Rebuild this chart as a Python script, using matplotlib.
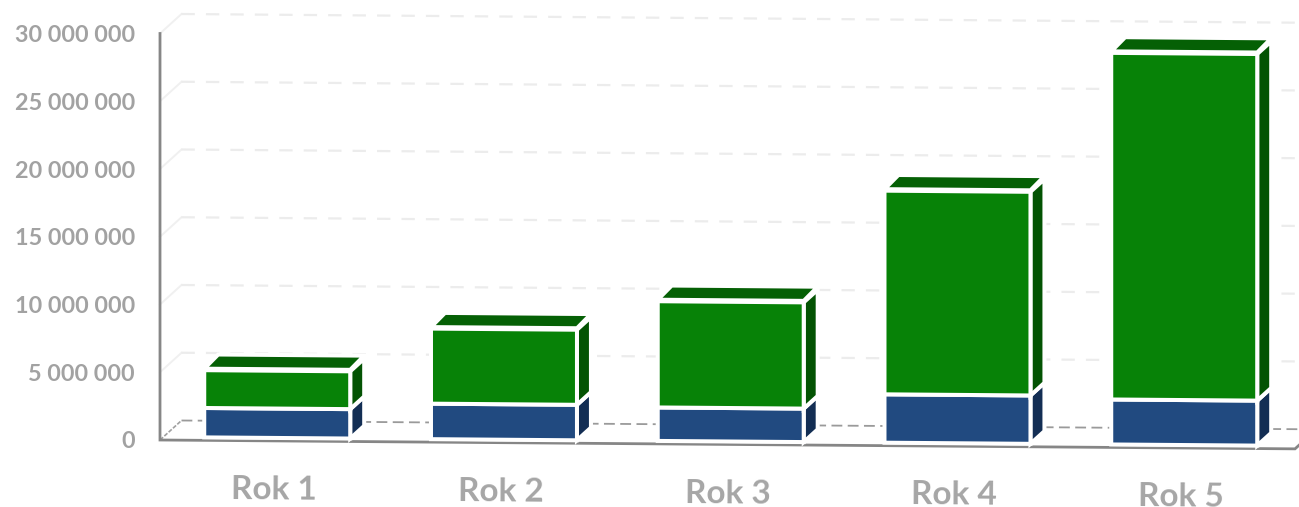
import matplotlib
matplotlib.use("Agg")
import matplotlib.pyplot as plt

categories = ["Rok 1", "Rok 2", "Rok 3", "Rok 4", "Rok 5"]
blue_values = [2.17e6, 2.62e6, 2.47e6, 3.57e6, 3.32e6]
green_values = [2.79e6, 5.54e6, 7.84e6, 15.03e6, 25.58e6]
y_ticks = [0, 5e6, 10e6, 15e6, 20e6, 25e6, 30e6]

W, H = 1299, 507
PX_PER_CAT = 226.75      # px between categories
PX_PER_VAL = 13.55e-6    # px per unit of value
X0_CAT = 274.0           # px of first category on front plane
X_AXIS = 160.0
Y_ZERO = 440.0
SHEAR = 0.0078
DEPTH_DX, DEPTH_DY = 21.5, 19.5
BAR_HALF = 73.0
D_FRONT, D_BACK = 0.15, 0.80
EDGE = 2.9
TOP_LIFT_FRONT, TOP_LIFT_BACK = 1.5 / PX_PER_VAL, 3.0 / PX_PER_VAL

plt.rcParams["font.family"] = ["Lato", "DejaVu Sans"]
fig = plt.figure(figsize=(W / 100, H / 100), dpi=100, facecolor="white")
ax = fig.add_axes([0, 0, 1, 1])
ax.set_xlim(-X0_CAT / PX_PER_CAT, (W - X0_CAT) / PX_PER_CAT)
ax.set_ylim(-(H - Y_ZERO) / PX_PER_VAL, Y_ZERO / PX_PER_VAL)
ax.axis("off")


def P(cat, val, depth=0.0, off_px=0.0):
    """Oblique projection: category position + px offset, value, depth -> axes data."""
    xpx = X0_CAT + cat * PX_PER_CAT + off_px
    x = xpx + depth * DEPTH_DX
    v_px = val * PX_PER_VAL - SHEAR * (xpx - X_AXIS) + depth * DEPTH_DY
    return ((x - X0_CAT) / PX_PER_CAT, v_px / PX_PER_VAL)


def line(pts, **kw):
    ax.plot([p[0] for p in pts], [p[1] for p in pts], **kw)


cat_axis = (X_AXIS - X0_CAT) / PX_PER_CAT
cat_end = (1295 - X0_CAT) / PX_PER_CAT
cat_clip = (W + 40 - X0_CAT) / PX_PER_CAT

# gridlines on back wall and side wall
for t in y_ticks[1:]:
    line([P(cat_axis, t, 0), P(cat_axis, t, 1)], color="#f0f0f0", lw=1.4, zorder=1)
    line([P(cat_axis, t, 1), P(cat_clip, t, 1)], color="#ececec", lw=1.6,
         dashes=(6, 5), zorder=1)

# floor
line([P(cat_axis, 0, 0), P(cat_axis, 0, 1)], color="#a0a0a0", lw=1.2, dashes=(2.5, 1), zorder=1)
line([P(cat_axis, 0, 1), P(cat_clip, 0, 1)], color="#9a9a9a", lw=1.3, dashes=(6, 3), zorder=1)

# axes lines
line([P(cat_axis, 30e6), P(cat_axis, 0), P(cat_end, 0), P(cat_end, 0, 0.4)],
     color="#868686", lw=2.0, solid_joinstyle="miter", zorder=2)


def box(i, v0, v1, front, side, top=None, z=3):
    a, b = -BAR_HALF, BAR_HALF
    pts = [P(i, v0, D_FRONT, b), P(i, v0, D_BACK, b), P(i, v1, D_BACK, b), P(i, v1, D_FRONT, b)]
    ax.fill(*zip(*pts), facecolor=side, edgecolor="white", lw=EDGE, joinstyle="miter", zorder=z)
    if top is not None:
        f, k = v1 + TOP_LIFT_FRONT, v1 + TOP_LIFT_BACK
        pts = [P(i, f, D_FRONT, a), P(i, f, D_FRONT, b), P(i, k, D_BACK, b), P(i, k, D_BACK, a)]
        ax.fill(*zip(*pts), facecolor=top, edgecolor="white", lw=EDGE, joinstyle="miter", zorder=z)
    pts = [P(i, v0, D_FRONT, a), P(i, v0, D_FRONT, b), P(i, v1, D_FRONT, b), P(i, v1, D_FRONT, a)]
    ax.fill(*zip(*pts), facecolor=front, edgecolor="white", lw=EDGE, joinstyle="miter", zorder=z + 0.1)


for i, (b, g) in enumerate(zip(blue_values, green_values)):
    box(i, 0, b, "#214a80", "#132e54", z=3)
    box(i, b, b + g, "#078207", "#035303", top="#056005", z=3.5)

# y tick labels
for t in y_ticks:
    lab = f"{int(t):,}".replace(",", " ")
    x = (135 - X0_CAT) / PX_PER_CAT
    ax.text(x, t - 2 / PX_PER_VAL, lab, ha="right", va="center", color="#a2a2a2", fontsize=16.8,
            fontweight="bold", zorder=5)

# category labels
for i, c in enumerate(categories):
    x, y = P(i, 0, 0)
    ax.text(x, y - 49 / PX_PER_VAL, c, ha="center", va="center", color="#a6a6a6",
            fontsize=24, fontweight="bold", rotation=-0.45, rotation_mode="anchor", zorder=5)

fig.savefig("out.png", dpi=100, facecolor="white")
